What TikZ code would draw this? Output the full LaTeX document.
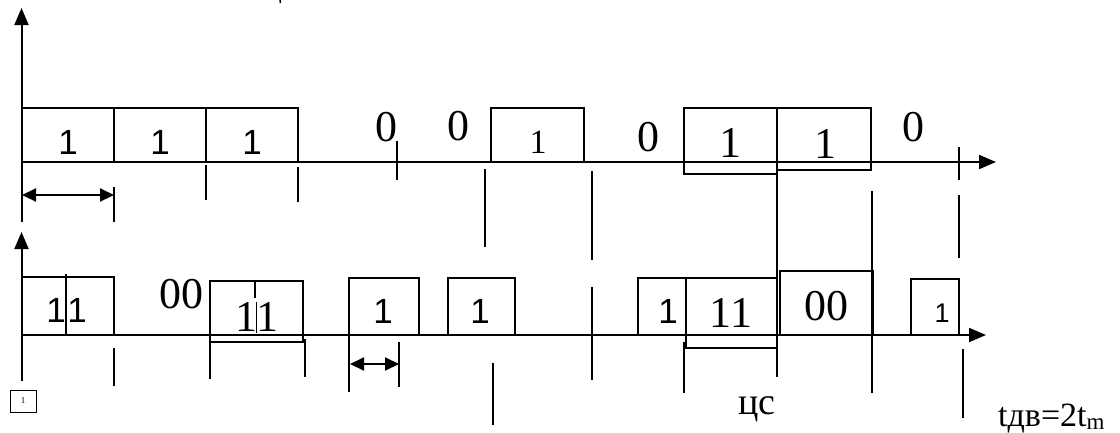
\documentclass[tikz,border=0pt]{standalone}
\usepackage{fontspec}
\setmainfont{Liberation Serif}
\newfontfamily\sansf{Liberation Sans}
\usetikzlibrary{arrows.meta}
\begin{document}
\begin{tikzpicture}[x=1pt,y=-1pt,
  axisln/.style={line width=2pt},
  boxln/.style={line width=1.4pt},
  tickln/.style={line width=1.5pt},
  bigtip/.style={-{Triangle[length=17pt,width=14pt]}},
  dbl/.style={line width=2pt,{Triangle[length=14pt,width=13pt]}-{Triangle[length=14pt,width=13pt]}},
  lbl/.style={inner sep=0pt,font=\fontsize{44}{44}\selectfont},
  mlbl/.style={inner sep=0pt,font=\fontsize{34}{34}\selectfont},
  slbl/.style={inner sep=0pt,font=\sansf\fontsize{35}{35}\selectfont}]
\useasboundingbox (0,0) rectangle (1120,432);

% ---------- upper chart ----------
\coordinate (yb1) at (21.5,222);
\coordinate (yt1) at (21.5,8);
\coordinate (o1) at (21.5,162);
\coordinate (xe1) at (996,162);
\draw[axisln,bigtip] (yb1) -- (yt1);
\draw[axisln,bigtip] (o1) -- (xe1);

\draw[boxln] (21.5,108) rectangle (114,162);
\draw[boxln] (114,108) rectangle (206,162);
\draw[boxln] (206,108) rectangle (298,162);
\draw[boxln] (491,108) rectangle (584,162);
\draw[boxln] (684,108) rectangle (777,174);
\draw[boxln] (777,108) rectangle (871,170);

\node[slbl] (u1) at (68,142) {1};
\node[slbl] (u2) at (160,142) {1};
\node[slbl] (u3) at (252,142) {1};
\node[lbl] (u4) at (386,127) {0};
\node[lbl] (u5) at (458,126) {0};
\node[mlbl] (u6) at (538,142) {1};
\node[lbl] (u7) at (648,137) {0};
\node[lbl] (u8) at (730,143) {1};
\node[lbl] (u9) at (825,144) {1};
\node[lbl] (u10) at (913,127) {0};

% ticks of upper chart
\draw[tickln] (206,165) -- (206,200);
\draw[tickln] (298,167) -- (298,202);
\draw[tickln] (114,187) -- (114,222);
\draw[tickln] (397,141) -- (397,180);
\draw[tickln] (485,169) -- (485,247);
\draw[tickln] (592,171) -- (592,260);
\draw[tickln] (959,147) -- (959,180);
\draw[tickln] (959,195) -- (959,258);
\draw[tickln] (280,0) -- (280.5,3);

\coordinate (da1) at (22,195);
\coordinate (db1) at (114,195);
\draw[dbl] (da1) -- (db1);

% long lines between the charts
\draw[tickln] (777,174) -- (777,377);
\draw[tickln] (872,191) -- (872,393);

% ---------- lower chart ----------
\coordinate (yb2) at (21.5,381);
\coordinate (yt2) at (21.5,232);
\coordinate (o2) at (21.5,335);
\coordinate (xe2) at (986,335);
\draw[axisln,bigtip] (yb2) -- (yt2);
\draw[axisln,bigtip] (o2) -- (xe2);

\draw[boxln] (21.5,277) rectangle (114,335);
\draw[boxln] (66,274) -- (66,335);
\draw[boxln] (210,281) rectangle (303,342);
\draw[boxln] (255,281) -- (255,298);
\draw[line width=0.8pt] (256,302) -- (256,333);
\draw[boxln] (349,278) rectangle (419,335);
\draw[boxln] (448,278) rectangle (515,335);
\draw[boxln] (638,278) rectangle (686,335);
\draw[boxln] (686,278) rectangle (777,348);
\draw[boxln] (780,271) rectangle (873,335);
\draw[boxln] (911,279) rectangle (959,335);

\node[slbl] (l1) at (56,310) {1};
\node[slbl] (l2) at (77,310) {1};
\node[lbl] (l3) at (181,294) {00};
\node[lbl] (l4) at (246,317) {1};
\node[lbl] (l5) at (267,317) {1};
\node[slbl] (l6) at (383,311) {1};
\node[slbl] (l7) at (480,311) {1};
\node[slbl] (l8) at (668,311) {1};
\node[lbl] (l9) at (731,313) {11};
\node[lbl] (l10) at (826,306) {00};
\node[inner sep=0pt,font=\sansf\fontsize{27}{27}\selectfont] (l11) at (942,313) {1};

% ticks of lower chart
\draw[tickln] (114,348) -- (114,386);
\draw[tickln] (210,342) -- (210,379);
\draw[tickln] (305,339) -- (305,377);
\draw[tickln] (349,336) -- (349,392);
\draw[tickln] (399,342) -- (399,387);
\draw[tickln] (493,363) -- (493,425);
\draw[tickln] (592,287) -- (592,380);
\draw[tickln] (684,342) -- (684,393);
\draw[tickln] (963,349) -- (963,418);

\coordinate (da2) at (350,364);
\coordinate (db2) at (399,364);
\draw[dbl] (da2) -- (db2);

% small box
\draw[line width=0.8pt] (10,390) rectangle (36,412);
\node[inner sep=0pt,font=\fontsize{9}{9}\selectfont] (sb) at (23,401) {1};

% texts
\node[inner sep=0pt,anchor=base,font=\fontsize{38}{38}\selectfont] (cs) at (757,414) {цс};
\node[inner sep=0pt,anchor=base west,font=\fontsize{34}{34}\selectfont] (tdv) at (998,426) {tдв=2t\raisebox{-3pt}{\fontsize{23}{23}\selectfont m}};
\end{tikzpicture}
\end{document}
